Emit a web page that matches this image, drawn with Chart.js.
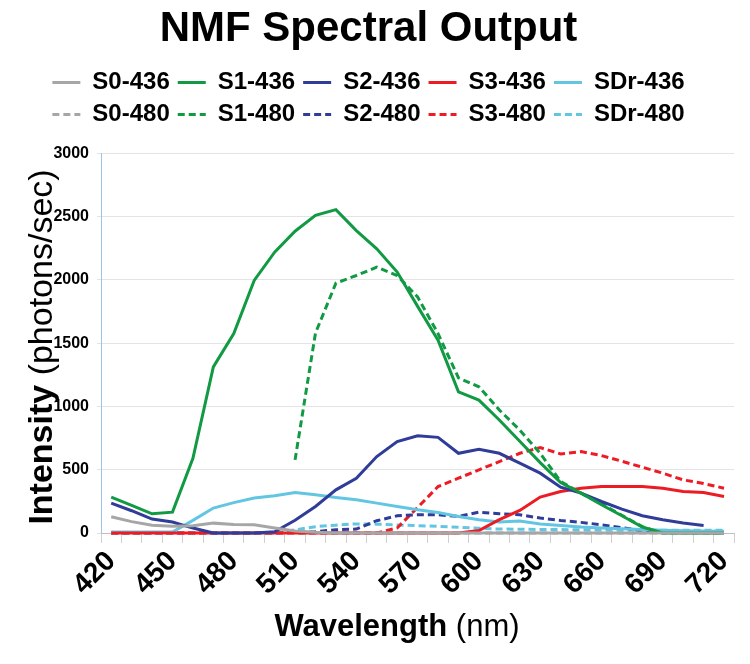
<!DOCTYPE html>
<html>
<head>
<meta charset="utf-8">
<script src="https://cdn.jsdelivr.net/npm/chart.js@4.4.0/dist/chart.umd.min.js"></script>
<style>
  html, body { margin: 0; padding: 0; background: #fff; }
</style>
</head>
<body>
<canvas id="chart" width="750" height="664"></canvas>
<script>
// wavelengths (nm), one category every 10 nm
var wavelengths = [420, 430, 440, 450, 460, 470, 480, 490, 500, 510, 520, 530, 540, 550, 560, 570,
  580, 590, 600, 610, 620, 630, 640, 650, 660, 670, 680, 690, 700, 710, 720];

// intensities (photons/sec)
var s0_436 = [128, 90, 62, 53, 58, 78, 67, 65, 40, 15, 5, 0, 0, 0, 0, 0, 0, 0, 0, 0, 0, 0, 0, 0, 0, 0, 0, 0, 0, 0, 0];
var s1_436 = [284, 218, 152, 165, 591, 1313, 1576, 1996, 2219, 2385, 2510, 2556, 2390, 2246, 2062, 1791,
  1523, 1116, 1050, 893, 725, 556, 399, 315, 223, 136, 47, 0, 0, 0, 0];
var s2_436 = [236, 176, 110, 87, 39, 0, 0, 0, 10, 100, 210, 341, 433, 604, 722, 769,
  756, 630, 662, 630, 552, 473, 362, 315, 249, 189, 136, 105, 79, 60, null];
var s3_436 = [0, 0, 0, 0, 0, 0, 0, 0, 0, 0, 0, 0, 0, 0, 0, 0,
  0, 0, 20, 105, 178, 284, 328, 354, 367, 367, 367, 354, 328, 320, 289];
var sdr_436 = [8, 8, 8, 8, 100, 197, 240, 276, 294, 320, 302, 281, 262, 236, 210, 184,
  162, 131, 105, 87, 95, 72, 60, 48, 40, 34, 27, 22, 18, 15, 13];

var s0_480 = [0, 0, 0, 0, 0, 0, 0, 0, 0, 0, 0, 0, 0, 0, 0, 0, 0, 0, 0, 0, 0, 0, 0, 0, 0, 0, 0, 0, 0, 0, 0];
var s1_480 = [null, null, null, null, null, null, null, null, null, 578, 1580, 1975, 2035, 2101, 2035, 1865,
  1576, 1226, 1155, 972, 814, 630, 407, 315, 230, 140, 50, 0, 0, 0, 0];
var s2_480 = [0, 0, 0, 0, 0, 0, 0, 0, 0, 5, 10, 26, 31, 97, 136, 144,
  144, 131, 165, 152, 144, 118, 99, 84, 65, 42, 18, 5, 3, 2, 0];
var s3_480 = [0, 0, 0, 0, 0, 0, 0, 0, 0, 0, 0, 0, 0, 0, 40, 202,
  367, 433, 499, 564, 630, 675, 625, 643, 612, 567, 520, 473, 420, 391, 354];
var sdr_480 = [0, 0, 0, 0, 0, 0, 0, 0, 0, 25, 50, 62, 72, 70, 64, 58,
  52, 45, 38, 31, 30, 28, 27, 26, 25, 24, 23, 22, 22, 22, 22];

var FONT = "'Liberation Sans', Arial, sans-serif";
Chart.defaults.font.family = FONT;
Chart.defaults.color = "#000";

function line(label, data, color, dashed) {
  return {
    label: label,
    data: data,
    borderColor: color,
    backgroundColor: color,
    borderWidth: 3,
    borderDash: dashed ? [7, 4] : [],
    pointRadius: 0,
    tension: 0,
    fill: false,
    clip: 4
  };
}

function drawMixed(ctx, boldPart, plainPart, cx, y, size) {
  ctx.font = "bold " + size + "px " + FONT;
  var w1 = ctx.measureText(boldPart).width;
  ctx.font = size + "px " + FONT;
  var w2 = ctx.measureText(plainPart).width;
  var x = cx - (w1 + w2) / 2;
  ctx.textAlign = "left";
  ctx.textBaseline = "alphabetic";
  ctx.font = "bold " + size + "px " + FONT;
  ctx.fillText(boldPart, x, y);
  ctx.font = size + "px " + FONT;
  ctx.fillText(plainPart, x + w1, y);
}

// axis titles are half bold, half plain, so draw them here
var axisTitles = {
  id: "axisTitles",
  afterInit: function (chart) {
    // leave a gap between the legend and the plot
    var legend = chart.legend;
    var fit = legend.fit;
    legend.fit = function () {
      fit.call(this);
      this.height += 17;
    };
  },
  afterDraw: function (chart) {
    var ctx = chart.ctx;
    ctx.save();
    ctx.fillStyle = "#000";
    drawMixed(ctx, "Wavelength", " (nm)", 397, 636, 31);
    ctx.translate(52, 347);
    ctx.rotate(-Math.PI / 2);
    drawMixed(ctx, "Intensity", " (photons/sec)", 0, 0, 34);
    ctx.restore();
  }
};

var ctx = document.getElementById("chart").getContext("2d");
var chart = new Chart(ctx, {
  type: "line",
  data: {
    labels: wavelengths,
    datasets: [
      line("S0-436", s0_436, "#a6a6a6", false),
      line("S1-436", s1_436, "#119a43", false),
      line("S2-436", s2_436, "#2f3c98", false),
      line("S3-436", s3_436, "#ed1c24", false),
      line("SDr-436", sdr_436, "#62c6e2", false),
      line("S0-480", s0_480, "#a6a6a6", true),
      line("S1-480", s1_480, "#119a43", true),
      line("S2-480", s2_480, "#2f3c98", true),
      line("S3-480", s3_480, "#ed1c24", true),
      line("SDr-480", sdr_480, "#62c6e2", true)
    ]
  },
  options: {
    responsive: false,
    animation: false,
    layout: { padding: { left: 0, right: 13, top: 0, bottom: 61 } },
    plugins: {
      title: {
        display: true,
        text: "NMF Spectral Output",
        font: { size: 42, weight: "bold" },
        color: "#000",
        padding: { top: 4, bottom: 8 }
      },
      legend: {
        position: "top",
        labels: {
          usePointStyle: true,
          pointStyle: "line",
          pointStyleWidth: 28,
          padding: 8,
          color: "#000",
          font: { size: 24, weight: "bold" },
          generateLabels: function (chart) {
            var items = Chart.defaults.plugins.legend.labels.generateLabels(chart);
            items.forEach(function (it) {
              var ds = chart.data.datasets[it.datasetIndex];
              it.lineDash = ds.borderDash;
              it.lineWidth = ds.borderWidth;
              it.strokeStyle = ds.borderColor;
            });
            return items;
          }
        }
      },
      tooltip: { enabled: false }
    },
    scales: {
      x: {
        type: "category",
        offset: true,
        grid: { offset: true, drawOnChartArea: false, tickLength: 10, color: "#d0d0d0" },
        border: { color: "#bfbfbf" },
        ticks: {
          autoSkip: false,
          minRotation: 45,
          maxRotation: 45,
          padding: 2,
          color: "#000",
          font: { size: 28, weight: "bold" },
          callback: function (v, i) { return i % 3 === 0 ? this.getLabelForValue(v) : ""; }
        },
        afterFit: function (s) { s.height = 70; }
      },
      y: {
        min: 0,
        max: 3000,
        grid: { color: "#e4e4e4", tickLength: 4 },
        border: { color: "#9dc3e6" },
        ticks: {
          stepSize: 500,
          padding: 8,
          color: "#000",
          font: { size: 16, weight: "bold" },
          callback: function (v) { return String(v); }
        },
        afterFit: function (s) { s.width = 101; }
      }
    }
  },
  plugins: [axisTitles]
});
</script>
</body>
</html>
